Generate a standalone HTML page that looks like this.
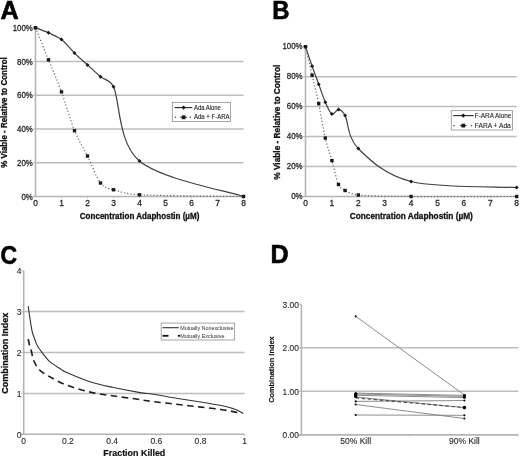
<!DOCTYPE html>
<html><head><meta charset="utf-8"><style>
html,body{margin:0;padding:0;background:#fff;}
svg{display:block;filter:blur(0.3px);}
text{font-family:"Liberation Sans",sans-serif;}
</style></head><body>
<svg width="520" height="457" viewBox="0 0 520 457" font-family="Liberation Sans, sans-serif">
<rect width="520" height="457" fill="#fff"/>
<text transform="translate(0.50,19.10) scale(1.0,1)" font-size="25.2" font-weight="bold" fill="#000" stroke="#000" stroke-width="0.6">A</text>
<line x1="35.50" y1="162.75" x2="243.50" y2="162.75" stroke="#bdbdbd" stroke-width="1.5" />
<line x1="35.50" y1="129.00" x2="243.50" y2="129.00" stroke="#bdbdbd" stroke-width="1.5" />
<line x1="35.50" y1="95.25" x2="243.50" y2="95.25" stroke="#bdbdbd" stroke-width="1.5" />
<line x1="35.50" y1="61.50" x2="243.50" y2="61.50" stroke="#bdbdbd" stroke-width="1.5" />
<line x1="35.50" y1="27.75" x2="35.50" y2="197.10" stroke="#b4b4b4" stroke-width="1.6" />
<line x1="33.00" y1="196.50" x2="243.50" y2="196.50" stroke="#b4b4b4" stroke-width="1.6" />
<line x1="33.00" y1="162.75" x2="35.50" y2="162.75" stroke="#b4b4b4" stroke-width="0.9" />
<line x1="33.00" y1="129.00" x2="35.50" y2="129.00" stroke="#b4b4b4" stroke-width="0.9" />
<line x1="33.00" y1="95.25" x2="35.50" y2="95.25" stroke="#b4b4b4" stroke-width="0.9" />
<line x1="33.00" y1="61.50" x2="35.50" y2="61.50" stroke="#b4b4b4" stroke-width="0.9" />
<line x1="33.00" y1="27.75" x2="35.50" y2="27.75" stroke="#b4b4b4" stroke-width="0.9" />
<line x1="61.50" y1="196.50" x2="61.50" y2="198.10" stroke="#bbb" stroke-width="0.9" />
<line x1="87.50" y1="196.50" x2="87.50" y2="198.10" stroke="#bbb" stroke-width="0.9" />
<line x1="113.50" y1="196.50" x2="113.50" y2="198.10" stroke="#bbb" stroke-width="0.9" />
<line x1="139.50" y1="196.50" x2="139.50" y2="198.10" stroke="#bbb" stroke-width="0.9" />
<line x1="165.50" y1="196.50" x2="165.50" y2="198.10" stroke="#bbb" stroke-width="0.9" />
<line x1="191.50" y1="196.50" x2="191.50" y2="198.10" stroke="#bbb" stroke-width="0.9" />
<line x1="217.50" y1="196.50" x2="217.50" y2="198.10" stroke="#bbb" stroke-width="0.9" />
<line x1="243.50" y1="196.50" x2="243.50" y2="198.10" stroke="#bbb" stroke-width="0.9" />
<text transform="translate(32.80,199.61) scale(0.94,1)" font-size="8.4" font-weight="normal" text-anchor="end" fill="#262626" stroke="#262626" stroke-width="0.28">0%</text>
<text transform="translate(32.80,165.86) scale(0.94,1)" font-size="8.4" font-weight="normal" text-anchor="end" fill="#262626" stroke="#262626" stroke-width="0.28">20%</text>
<text transform="translate(32.80,132.11) scale(0.94,1)" font-size="8.4" font-weight="normal" text-anchor="end" fill="#262626" stroke="#262626" stroke-width="0.28">40%</text>
<text transform="translate(32.80,98.36) scale(0.94,1)" font-size="8.4" font-weight="normal" text-anchor="end" fill="#262626" stroke="#262626" stroke-width="0.28">60%</text>
<text transform="translate(32.80,64.61) scale(0.94,1)" font-size="8.4" font-weight="normal" text-anchor="end" fill="#262626" stroke="#262626" stroke-width="0.28">80%</text>
<text transform="translate(32.80,30.86) scale(0.94,1)" font-size="8.4" font-weight="normal" text-anchor="end" fill="#262626" stroke="#262626" stroke-width="0.28">100%</text>
<text x="35.50" y="206.31" font-size="8.4" font-weight="normal" text-anchor="middle" fill="#262626" stroke="#262626" stroke-width="0.28">0</text>
<text x="61.50" y="206.31" font-size="8.4" font-weight="normal" text-anchor="middle" fill="#262626" stroke="#262626" stroke-width="0.28">1</text>
<text x="87.50" y="206.31" font-size="8.4" font-weight="normal" text-anchor="middle" fill="#262626" stroke="#262626" stroke-width="0.28">2</text>
<text x="113.50" y="206.31" font-size="8.4" font-weight="normal" text-anchor="middle" fill="#262626" stroke="#262626" stroke-width="0.28">3</text>
<text x="139.50" y="206.31" font-size="8.4" font-weight="normal" text-anchor="middle" fill="#262626" stroke="#262626" stroke-width="0.28">4</text>
<text x="165.50" y="206.31" font-size="8.4" font-weight="normal" text-anchor="middle" fill="#262626" stroke="#262626" stroke-width="0.28">5</text>
<text x="191.50" y="206.31" font-size="8.4" font-weight="normal" text-anchor="middle" fill="#262626" stroke="#262626" stroke-width="0.28">6</text>
<text x="217.50" y="206.31" font-size="8.4" font-weight="normal" text-anchor="middle" fill="#262626" stroke="#262626" stroke-width="0.28">7</text>
<text x="243.50" y="206.31" font-size="8.4" font-weight="normal" text-anchor="middle" fill="#262626" stroke="#262626" stroke-width="0.28">8</text>
<text transform="translate(6.70,112.50) rotate(-90)" font-size="8.7" font-weight="bold" text-anchor="middle" fill="#111" stroke="#111" stroke-width="0.3" textLength="110.5" lengthAdjust="spacingAndGlyphs">% Viable - Relative to Control</text>
<text x="139.60" y="219.20" font-size="8.6" font-weight="bold" text-anchor="middle" fill="#111" textLength="119.6" lengthAdjust="spacingAndGlyphs" stroke="#111" stroke-width="0.3">Concentration Adaphostin (µM)</text>
<path d="M35.50,27.75 C37.67,28.59 44.17,30.84 48.50,32.81 C52.83,34.78 57.17,36.19 61.50,39.56 C65.83,42.94 70.17,48.84 74.50,53.06 C78.83,57.28 83.17,60.94 87.50,64.88 C91.83,68.81 96.17,73.03 100.50,76.69 C104.83,80.34 110.04,79.33 113.50,86.81 C120.00,100.88 117.83,142.78 139.50,161.06 C161.17,179.34 226.17,190.59 243.50,196.50" fill="none" stroke="#404040" stroke-width="1.2"/>
<path d="M35.50,25.75 L37.50,27.75 L35.50,29.75 L33.50,27.75Z" fill="#1a1a1a"/>
<path d="M48.50,30.81 L50.50,32.81 L48.50,34.81 L46.50,32.81Z" fill="#1a1a1a"/>
<path d="M61.50,37.56 L63.50,39.56 L61.50,41.56 L59.50,39.56Z" fill="#1a1a1a"/>
<path d="M74.50,51.06 L76.50,53.06 L74.50,55.06 L72.50,53.06Z" fill="#1a1a1a"/>
<path d="M87.50,62.88 L89.50,64.88 L87.50,66.88 L85.50,64.88Z" fill="#1a1a1a"/>
<path d="M100.50,74.69 L102.50,76.69 L100.50,78.69 L98.50,76.69Z" fill="#1a1a1a"/>
<path d="M113.50,84.81 L115.50,86.81 L113.50,88.81 L111.50,86.81Z" fill="#1a1a1a"/>
<path d="M139.50,159.06 L141.50,161.06 L139.50,163.06 L137.50,161.06Z" fill="#1a1a1a"/>
<path d="M243.50,194.50 L245.50,196.50 L243.50,198.50 L241.50,196.50Z" fill="#1a1a1a"/>
<path d="M35.50,27.75 C37.67,33.09 44.17,49.12 48.50,59.81 C52.83,70.50 57.17,80.06 61.50,91.88 C65.83,103.69 70.17,120.00 74.50,130.69 C78.83,141.38 83.17,147.28 87.50,156.00 C91.83,164.72 96.17,177.38 100.50,183.00 C104.83,188.62 107.00,187.78 113.50,189.75 C120.00,191.72 126.27,194.13 139.50,194.81 C161.17,195.94 226.17,196.22 243.50,196.50" fill="none" stroke="#666" stroke-width="1.2" stroke-dasharray="1.2 2.1"/>
<rect x="33.80" y="26.05" width="3.4" height="3.4" fill="#1a1a1a"/>
<rect x="46.80" y="58.11" width="3.4" height="3.4" fill="#1a1a1a"/>
<rect x="59.80" y="90.17" width="3.4" height="3.4" fill="#1a1a1a"/>
<rect x="72.80" y="128.99" width="3.4" height="3.4" fill="#1a1a1a"/>
<rect x="85.80" y="154.30" width="3.4" height="3.4" fill="#1a1a1a"/>
<rect x="98.80" y="181.30" width="3.4" height="3.4" fill="#1a1a1a"/>
<rect x="111.80" y="188.05" width="3.4" height="3.4" fill="#1a1a1a"/>
<rect x="137.80" y="193.11" width="3.4" height="3.4" fill="#1a1a1a"/>
<rect x="241.80" y="194.80" width="3.4" height="3.4" fill="#1a1a1a"/>
<rect x="172.3" y="102.4" width="58.20" height="19.10" fill="#fff" stroke="#9a9a9a" stroke-width="0.9"/>
<line x1="174.60" y1="107.60" x2="192.30" y2="107.60" stroke="#262626" stroke-width="1.1" />
<path d="M183.60,105.40 L185.80,107.60 L183.60,109.80 L181.40,107.60Z" fill="#1a1a1a"/>
<rect x="174.75" y="116.70" width="1.3" height="1.2" fill="#444"/>
<rect x="189.65" y="116.70" width="1.3" height="1.2" fill="#444"/>
<line x1="180.10" y1="117.30" x2="187.10" y2="117.30" stroke="#555" stroke-width="1.1" />
<rect x="181.70" y="115.40" width="3.8" height="3.8" fill="#1a1a1a"/>
<text x="194.00" y="109.68" font-size="6.6" font-weight="normal" text-anchor="start" fill="#222" textLength="26.9" lengthAdjust="spacingAndGlyphs" stroke="#333" stroke-width="0.12">Ada Alone</text>
<text x="194.00" y="119.28" font-size="6.6" font-weight="normal" text-anchor="start" fill="#222" textLength="35.5" lengthAdjust="spacingAndGlyphs" stroke="#333" stroke-width="0.12">Ada + F-ARA</text>
<text transform="translate(272.30,18.50) scale(0.95,1)" font-size="25.2" font-weight="bold" fill="#000" stroke="#000" stroke-width="0.6">B</text>
<line x1="305.50" y1="166.54" x2="516.70" y2="166.54" stroke="#bdbdbd" stroke-width="1.5" />
<line x1="305.50" y1="136.58" x2="516.70" y2="136.58" stroke="#bdbdbd" stroke-width="1.5" />
<line x1="305.50" y1="106.62" x2="516.70" y2="106.62" stroke="#bdbdbd" stroke-width="1.5" />
<line x1="305.50" y1="76.66" x2="516.70" y2="76.66" stroke="#bdbdbd" stroke-width="1.5" />
<line x1="305.50" y1="46.70" x2="305.50" y2="197.10" stroke="#b4b4b4" stroke-width="1.6" />
<line x1="303.00" y1="196.50" x2="516.70" y2="196.50" stroke="#b4b4b4" stroke-width="1.6" />
<line x1="303.00" y1="166.54" x2="305.50" y2="166.54" stroke="#b4b4b4" stroke-width="0.9" />
<line x1="303.00" y1="136.58" x2="305.50" y2="136.58" stroke="#b4b4b4" stroke-width="0.9" />
<line x1="303.00" y1="106.62" x2="305.50" y2="106.62" stroke="#b4b4b4" stroke-width="0.9" />
<line x1="303.00" y1="76.66" x2="305.50" y2="76.66" stroke="#b4b4b4" stroke-width="0.9" />
<line x1="303.00" y1="46.70" x2="305.50" y2="46.70" stroke="#b4b4b4" stroke-width="0.9" />
<line x1="331.90" y1="196.50" x2="331.90" y2="198.10" stroke="#bbb" stroke-width="0.9" />
<line x1="358.30" y1="196.50" x2="358.30" y2="198.10" stroke="#bbb" stroke-width="0.9" />
<line x1="384.70" y1="196.50" x2="384.70" y2="198.10" stroke="#bbb" stroke-width="0.9" />
<line x1="411.10" y1="196.50" x2="411.10" y2="198.10" stroke="#bbb" stroke-width="0.9" />
<line x1="437.50" y1="196.50" x2="437.50" y2="198.10" stroke="#bbb" stroke-width="0.9" />
<line x1="463.90" y1="196.50" x2="463.90" y2="198.10" stroke="#bbb" stroke-width="0.9" />
<line x1="490.30" y1="196.50" x2="490.30" y2="198.10" stroke="#bbb" stroke-width="0.9" />
<line x1="516.70" y1="196.50" x2="516.70" y2="198.10" stroke="#bbb" stroke-width="0.9" />
<text transform="translate(302.60,199.21) scale(0.94,1)" font-size="8.4" font-weight="normal" text-anchor="end" fill="#262626" stroke="#262626" stroke-width="0.28">0%</text>
<text transform="translate(302.60,169.25) scale(0.94,1)" font-size="8.4" font-weight="normal" text-anchor="end" fill="#262626" stroke="#262626" stroke-width="0.28">20%</text>
<text transform="translate(302.60,139.29) scale(0.94,1)" font-size="8.4" font-weight="normal" text-anchor="end" fill="#262626" stroke="#262626" stroke-width="0.28">40%</text>
<text transform="translate(302.60,109.33) scale(0.94,1)" font-size="8.4" font-weight="normal" text-anchor="end" fill="#262626" stroke="#262626" stroke-width="0.28">60%</text>
<text transform="translate(302.60,79.37) scale(0.94,1)" font-size="8.4" font-weight="normal" text-anchor="end" fill="#262626" stroke="#262626" stroke-width="0.28">80%</text>
<text transform="translate(302.60,49.41) scale(0.94,1)" font-size="8.4" font-weight="normal" text-anchor="end" fill="#262626" stroke="#262626" stroke-width="0.28">100%</text>
<text x="305.50" y="206.01" font-size="8.4" font-weight="normal" text-anchor="middle" fill="#262626" stroke="#262626" stroke-width="0.28">0</text>
<text x="331.90" y="206.01" font-size="8.4" font-weight="normal" text-anchor="middle" fill="#262626" stroke="#262626" stroke-width="0.28">1</text>
<text x="358.30" y="206.01" font-size="8.4" font-weight="normal" text-anchor="middle" fill="#262626" stroke="#262626" stroke-width="0.28">2</text>
<text x="384.70" y="206.01" font-size="8.4" font-weight="normal" text-anchor="middle" fill="#262626" stroke="#262626" stroke-width="0.28">3</text>
<text x="411.10" y="206.01" font-size="8.4" font-weight="normal" text-anchor="middle" fill="#262626" stroke="#262626" stroke-width="0.28">4</text>
<text x="437.50" y="206.01" font-size="8.4" font-weight="normal" text-anchor="middle" fill="#262626" stroke="#262626" stroke-width="0.28">5</text>
<text x="463.90" y="206.01" font-size="8.4" font-weight="normal" text-anchor="middle" fill="#262626" stroke="#262626" stroke-width="0.28">6</text>
<text x="490.30" y="206.01" font-size="8.4" font-weight="normal" text-anchor="middle" fill="#262626" stroke="#262626" stroke-width="0.28">7</text>
<text x="516.70" y="206.01" font-size="8.4" font-weight="normal" text-anchor="middle" fill="#262626" stroke="#262626" stroke-width="0.28">8</text>
<text transform="translate(279.50,122.20) rotate(-90)" font-size="8.2" font-weight="bold" text-anchor="middle" fill="#111" stroke="#111" stroke-width="0.3" textLength="115.0" lengthAdjust="spacingAndGlyphs">% Viable - Relative to Control</text>
<text x="411.30" y="219.20" font-size="8.8" font-weight="bold" text-anchor="middle" fill="#111" textLength="123.2" lengthAdjust="spacingAndGlyphs" stroke="#111" stroke-width="0.3">Concentration Adaphostin (µM)</text>
<path d="M305.50,46.70 C306.60,49.95 309.90,59.93 312.10,66.17 C314.30,72.42 316.50,78.16 318.70,84.15 C320.90,90.14 323.10,97.13 325.30,102.13 C327.50,107.12 329.70,112.86 331.90,114.11 C334.10,115.36 336.30,109.37 338.50,109.62 C340.70,109.87 343.08,111.63 345.10,115.61 C348.40,122.10 347.30,137.58 358.30,148.56 C369.30,159.55 384.70,175.03 411.10,181.52 C437.50,188.01 499.10,186.51 516.70,187.51" fill="none" stroke="#404040" stroke-width="1.2"/>
<path d="M305.50,44.70 L307.50,46.70 L305.50,48.70 L303.50,46.70Z" fill="#1a1a1a"/>
<path d="M312.10,64.17 L314.10,66.17 L312.10,68.17 L310.10,66.17Z" fill="#1a1a1a"/>
<path d="M318.70,82.15 L320.70,84.15 L318.70,86.15 L316.70,84.15Z" fill="#1a1a1a"/>
<path d="M325.30,100.13 L327.30,102.13 L325.30,104.13 L323.30,102.13Z" fill="#1a1a1a"/>
<path d="M331.90,112.11 L333.90,114.11 L331.90,116.11 L329.90,114.11Z" fill="#1a1a1a"/>
<path d="M338.50,107.62 L340.50,109.62 L338.50,111.62 L336.50,109.62Z" fill="#1a1a1a"/>
<path d="M345.10,113.61 L347.10,115.61 L345.10,117.61 L343.10,115.61Z" fill="#1a1a1a"/>
<path d="M358.30,146.56 L360.30,148.56 L358.30,150.56 L356.30,148.56Z" fill="#1a1a1a"/>
<path d="M411.10,179.52 L413.10,181.52 L411.10,183.52 L409.10,181.52Z" fill="#1a1a1a"/>
<path d="M516.70,185.51 L518.70,187.51 L516.70,189.51 L514.70,187.51Z" fill="#1a1a1a"/>
<path d="M305.50,46.70 C306.60,51.44 309.90,65.67 312.10,75.16 C314.30,84.65 316.50,93.14 318.70,103.62 C320.90,114.11 323.10,128.59 325.30,138.08 C327.50,147.57 329.70,152.81 331.90,160.55 C334.10,168.29 336.30,179.52 338.50,184.52 C340.30,188.59 341.80,188.76 345.10,190.51 C348.40,192.26 351.36,194.37 358.30,195.00 C369.30,196.00 384.70,196.25 411.10,196.50 C437.50,196.75 499.10,196.50 516.70,196.50" fill="none" stroke="#666" stroke-width="1.2" stroke-dasharray="1.2 2.1"/>
<rect x="303.80" y="45.00" width="3.4" height="3.4" fill="#1a1a1a"/>
<rect x="310.40" y="73.46" width="3.4" height="3.4" fill="#1a1a1a"/>
<rect x="317.00" y="101.92" width="3.4" height="3.4" fill="#1a1a1a"/>
<rect x="323.60" y="136.38" width="3.4" height="3.4" fill="#1a1a1a"/>
<rect x="330.20" y="158.85" width="3.4" height="3.4" fill="#1a1a1a"/>
<rect x="336.80" y="182.82" width="3.4" height="3.4" fill="#1a1a1a"/>
<rect x="343.40" y="188.81" width="3.4" height="3.4" fill="#1a1a1a"/>
<rect x="356.60" y="193.30" width="3.4" height="3.4" fill="#1a1a1a"/>
<rect x="409.40" y="194.80" width="3.4" height="3.4" fill="#1a1a1a"/>
<rect x="515.00" y="194.80" width="3.4" height="3.4" fill="#1a1a1a"/>
<rect x="451.3" y="110.6" width="61.20" height="19.40" fill="#fff" stroke="#9a9a9a" stroke-width="0.9"/>
<line x1="453.10" y1="115.60" x2="473.70" y2="115.60" stroke="#262626" stroke-width="1.1" />
<path d="M463.30,113.40 L465.50,115.60 L463.30,117.80 L461.10,115.60Z" fill="#1a1a1a"/>
<rect x="453.35" y="125.00" width="1.3" height="1.2" fill="#444"/>
<rect x="470.85" y="125.00" width="1.3" height="1.2" fill="#444"/>
<line x1="459.80" y1="125.60" x2="466.80" y2="125.60" stroke="#555" stroke-width="1.1" />
<rect x="461.40" y="123.70" width="3.8" height="3.8" fill="#1a1a1a"/>
<text x="474.80" y="117.68" font-size="6.6" font-weight="normal" text-anchor="start" fill="#222" textLength="36.6" lengthAdjust="spacingAndGlyphs" stroke="#333" stroke-width="0.12">F-ARA Alone</text>
<text x="474.80" y="127.58" font-size="6.6" font-weight="normal" text-anchor="start" fill="#222" textLength="36.0" lengthAdjust="spacingAndGlyphs" stroke="#333" stroke-width="0.12">FARA + Ada</text>
<text transform="translate(0.60,263.80) scale(0.91,1)" font-size="25.2" font-weight="bold" fill="#000" stroke="#000" stroke-width="0.6">C</text>
<line x1="23.70" y1="393.40" x2="244.70" y2="393.40" stroke="#bdbdbd" stroke-width="1.5" />
<line x1="23.70" y1="352.50" x2="244.70" y2="352.50" stroke="#bdbdbd" stroke-width="1.5" />
<line x1="23.70" y1="311.60" x2="244.70" y2="311.60" stroke="#bdbdbd" stroke-width="1.5" />
<line x1="23.70" y1="270.70" x2="23.70" y2="434.90" stroke="#b4b4b4" stroke-width="1.6" />
<line x1="21.20" y1="434.30" x2="244.70" y2="434.30" stroke="#b4b4b4" stroke-width="1.6" />
<line x1="21.20" y1="434.30" x2="23.70" y2="434.30" stroke="#b4b4b4" stroke-width="0.9" />
<text x="21.40" y="437.54" font-size="8.5" font-weight="normal" text-anchor="end" fill="#262626" stroke="#333" stroke-width="0.12">0</text>
<line x1="21.20" y1="393.40" x2="23.70" y2="393.40" stroke="#b4b4b4" stroke-width="0.9" />
<text x="21.40" y="396.64" font-size="8.5" font-weight="normal" text-anchor="end" fill="#262626" stroke="#333" stroke-width="0.12">1</text>
<line x1="21.20" y1="352.50" x2="23.70" y2="352.50" stroke="#b4b4b4" stroke-width="0.9" />
<text x="21.40" y="355.74" font-size="8.5" font-weight="normal" text-anchor="end" fill="#262626" stroke="#333" stroke-width="0.12">2</text>
<line x1="21.20" y1="311.60" x2="23.70" y2="311.60" stroke="#b4b4b4" stroke-width="0.9" />
<text x="21.40" y="314.84" font-size="8.5" font-weight="normal" text-anchor="end" fill="#262626" stroke="#333" stroke-width="0.12">3</text>
<line x1="21.20" y1="270.70" x2="23.70" y2="270.70" stroke="#b4b4b4" stroke-width="0.9" />
<text x="21.40" y="273.94" font-size="8.5" font-weight="normal" text-anchor="end" fill="#262626" stroke="#333" stroke-width="0.12">4</text>
<text x="23.70" y="444.14" font-size="8.5" font-weight="normal" text-anchor="middle" fill="#262626" stroke="#333" stroke-width="0.12">0</text>
<line x1="67.90" y1="434.30" x2="67.90" y2="435.90" stroke="#bbb" stroke-width="0.9" />
<text x="67.90" y="444.14" font-size="8.5" font-weight="normal" text-anchor="middle" fill="#262626" stroke="#333" stroke-width="0.12">0.2</text>
<line x1="112.10" y1="434.30" x2="112.10" y2="435.90" stroke="#bbb" stroke-width="0.9" />
<text x="112.10" y="444.14" font-size="8.5" font-weight="normal" text-anchor="middle" fill="#262626" stroke="#333" stroke-width="0.12">0.4</text>
<line x1="156.30" y1="434.30" x2="156.30" y2="435.90" stroke="#bbb" stroke-width="0.9" />
<text x="156.30" y="444.14" font-size="8.5" font-weight="normal" text-anchor="middle" fill="#262626" stroke="#333" stroke-width="0.12">0.6</text>
<line x1="200.50" y1="434.30" x2="200.50" y2="435.90" stroke="#bbb" stroke-width="0.9" />
<text x="200.50" y="444.14" font-size="8.5" font-weight="normal" text-anchor="middle" fill="#262626" stroke="#333" stroke-width="0.12">0.8</text>
<line x1="244.70" y1="434.30" x2="244.70" y2="435.90" stroke="#bbb" stroke-width="0.9" />
<text x="244.70" y="444.14" font-size="8.5" font-weight="normal" text-anchor="middle" fill="#262626" stroke="#333" stroke-width="0.12">1</text>
<text transform="translate(7.50,353.30) rotate(-90)" font-size="8.7" font-weight="bold" text-anchor="middle" fill="#111" stroke="#111" stroke-width="0.3" textLength="81.0" lengthAdjust="spacingAndGlyphs">Combination Index</text>
<text x="134.30" y="455.80" font-size="8.95" font-weight="bold" text-anchor="middle" fill="#111" stroke="#111" stroke-width="0.2">Fraction Killed</text>
<path d="M28.20,306.10 C28.53,308.42 29.52,315.68 30.20,320.00 C30.88,324.32 31.50,328.67 32.30,332.00 C33.10,335.33 34.13,337.67 35.00,340.00 C35.87,342.33 36.15,343.70 37.50,346.00 C38.85,348.30 41.02,351.15 43.10,353.80 C45.18,356.45 47.13,359.40 50.00,361.90 C52.87,364.40 57.60,367.07 60.30,368.80 C63.00,370.53 61.38,370.18 66.20,372.30 C71.02,374.42 81.52,379.00 89.20,381.50 C96.88,384.00 103.83,385.45 112.30,387.30 C120.77,389.15 133.20,391.45 140.00,392.60 C146.80,393.75 147.07,393.27 153.10,394.20 C159.13,395.13 168.52,396.93 176.20,398.20 C183.88,399.47 191.52,400.53 199.20,401.80 C206.88,403.07 216.92,404.75 222.30,405.80 C227.68,406.85 228.88,407.32 231.50,408.10 C234.12,408.88 236.07,409.62 238.00,410.50 C239.93,411.38 242.25,412.92 243.10,413.40" fill="none" stroke="#333" stroke-width="1.1"/>
<path d="M28.20,339.00 C28.42,340.00 28.97,342.95 29.50,345.00 C30.03,347.05 30.68,348.67 31.40,351.30 C32.12,353.93 32.43,357.68 33.80,360.80 C35.17,363.92 36.90,367.32 39.60,370.00 C42.30,372.68 45.57,374.40 50.00,376.90 C54.43,379.40 59.67,382.50 66.20,385.00 C72.73,387.50 81.52,390.10 89.20,391.90 C96.88,393.70 104.73,394.65 112.30,395.80 C119.87,396.95 127.80,397.83 134.60,398.80 C141.40,399.77 146.17,400.70 153.10,401.60 C160.03,402.50 168.52,403.32 176.20,404.20 C183.88,405.08 191.52,405.98 199.20,406.90 C206.88,407.82 215.75,408.73 222.30,409.70 C228.85,410.67 235.42,412.02 238.50,412.70 C241.58,413.38 240.42,413.62 240.80,413.80" fill="none" stroke="#1c1c1c" stroke-width="1.6" stroke-dasharray="6.5 4.5"/>
<rect x="161.2" y="323.1" width="73.4" height="16.9" fill="#fff" stroke="#9a9a9a" stroke-width="0.9"/>
<line x1="162.50" y1="327.70" x2="178.80" y2="327.70" stroke="#333" stroke-width="1.1" />
<line x1="162.50" y1="335.80" x2="168.50" y2="335.80" stroke="#111" stroke-width="1.8" />
<line x1="177.80" y1="335.80" x2="180.00" y2="335.80" stroke="#111" stroke-width="1.8" />
<text x="180.20" y="329.82" font-size="5.6" font-weight="normal" text-anchor="start" fill="#2a2a2a" textLength="53.3" lengthAdjust="spacingAndGlyphs" >Mutually Nonexclusive</text>
<text x="180.20" y="338.02" font-size="5.6" font-weight="normal" text-anchor="start" fill="#2a2a2a" textLength="44.3" lengthAdjust="spacingAndGlyphs" >Mutually Exclusive</text>
<text transform="translate(270.60,263.30) scale(1.0,1)" font-size="25.2" font-weight="bold" fill="#000" stroke="#000" stroke-width="0.6">D</text>
<line x1="301.40" y1="391.35" x2="518.20" y2="391.35" stroke="#bdbdbd" stroke-width="1.5" />
<line x1="301.40" y1="347.80" x2="518.20" y2="347.80" stroke="#bdbdbd" stroke-width="1.5" />
<line x1="301.40" y1="304.25" x2="301.40" y2="435.50" stroke="#b4b4b4" stroke-width="1.6" />
<line x1="298.90" y1="434.90" x2="518.20" y2="434.90" stroke="#b4b4b4" stroke-width="1.6" />
<line x1="298.90" y1="434.90" x2="301.40" y2="434.90" stroke="#b4b4b4" stroke-width="0.9" />
<text x="298.90" y="438.21" font-size="8.4" font-weight="normal" text-anchor="end" fill="#262626" stroke="#333" stroke-width="0.12">0.00</text>
<line x1="298.90" y1="391.35" x2="301.40" y2="391.35" stroke="#b4b4b4" stroke-width="0.9" />
<text x="298.90" y="394.66" font-size="8.4" font-weight="normal" text-anchor="end" fill="#262626" stroke="#333" stroke-width="0.12">1.00</text>
<line x1="298.90" y1="347.80" x2="301.40" y2="347.80" stroke="#b4b4b4" stroke-width="0.9" />
<text x="298.90" y="351.11" font-size="8.4" font-weight="normal" text-anchor="end" fill="#262626" stroke="#333" stroke-width="0.12">2.00</text>
<line x1="298.90" y1="304.25" x2="301.40" y2="304.25" stroke="#b4b4b4" stroke-width="0.9" />
<text x="298.90" y="307.56" font-size="8.4" font-weight="normal" text-anchor="end" fill="#262626" stroke="#333" stroke-width="0.12">3.00</text>
<line x1="409.80" y1="434.90" x2="409.80" y2="436.50" stroke="#bbb" stroke-width="0.9" />
<line x1="518.20" y1="434.90" x2="518.20" y2="436.50" stroke="#bbb" stroke-width="0.9" />
<text x="355.70" y="443.80" font-size="8.5" font-weight="normal" text-anchor="middle" fill="#262626" stroke="#333" stroke-width="0.12">50% Kill</text>
<text x="464.40" y="443.80" font-size="8.5" font-weight="normal" text-anchor="middle" fill="#262626" stroke="#333" stroke-width="0.12">90% Kill</text>
<text transform="translate(274.20,369.60) rotate(-90)" font-size="7.4" font-weight="bold" text-anchor="middle" fill="#111" stroke="#111" stroke-width="0.15">Combination Index</text>
<line x1="355.70" y1="316.30" x2="464.40" y2="395.00" stroke="#808080" stroke-width="0.9" />
<circle cx="355.7" cy="316.3" r="1.1" fill="#111"/>
<circle cx="464.4" cy="395.0" r="1.1" fill="#111"/>
<line x1="355.70" y1="393.10" x2="464.40" y2="395.40" stroke="#808080" stroke-width="0.9" />
<circle cx="355.7" cy="393.1" r="1.1" fill="#111"/>
<circle cx="464.4" cy="395.4" r="1.1" fill="#111"/>
<line x1="355.70" y1="394.00" x2="464.40" y2="396.40" stroke="#808080" stroke-width="0.9" />
<circle cx="355.7" cy="394.0" r="1.1" fill="#111"/>
<circle cx="464.4" cy="396.4" r="1.1" fill="#111"/>
<line x1="355.70" y1="395.30" x2="464.40" y2="397.60" stroke="#808080" stroke-width="0.9" />
<circle cx="355.7" cy="395.3" r="1.1" fill="#111"/>
<circle cx="464.4" cy="397.6" r="1.1" fill="#111"/>
<line x1="355.70" y1="397.00" x2="464.40" y2="407.60" stroke="#808080" stroke-width="0.9" />
<circle cx="355.7" cy="397.0" r="1.1" fill="#111"/>
<circle cx="464.4" cy="407.6" r="1.1" fill="#111"/>
<line x1="355.70" y1="401.40" x2="464.40" y2="400.50" stroke="#808080" stroke-width="0.9" />
<circle cx="355.7" cy="401.4" r="1.1" fill="#111"/>
<circle cx="464.4" cy="400.5" r="1.1" fill="#111"/>
<line x1="355.70" y1="404.50" x2="464.40" y2="418.50" stroke="#808080" stroke-width="0.9" />
<circle cx="355.7" cy="404.5" r="1.1" fill="#111"/>
<circle cx="464.4" cy="418.5" r="1.1" fill="#111"/>
<line x1="355.70" y1="415.00" x2="464.40" y2="415.30" stroke="#808080" stroke-width="0.9" />
<circle cx="355.7" cy="415.0" r="1.1" fill="#111"/>
<circle cx="464.4" cy="415.3" r="1.1" fill="#111"/>
<line x1="355.70" y1="397.90" x2="464.40" y2="407.60" stroke="#444" stroke-width="1.1" stroke-dasharray="3.5 2.5"/>
<rect x="354.09999999999997" y="393" width="3.2" height="4.6" fill="#000"/>
<rect x="463.0" y="394.6" width="2.8" height="3.8" fill="#000"/>
<circle cx="464.4" cy="407.6" r="1.8" fill="#000"/>
</svg>
</body></html>
